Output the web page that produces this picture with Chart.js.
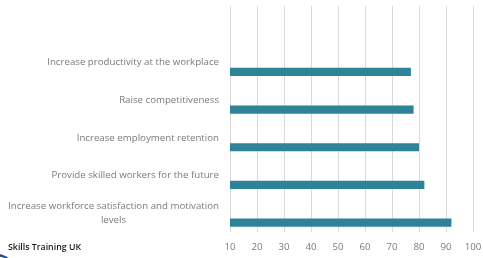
<!DOCTYPE html>
<html>
<head>
<meta charset="utf-8">
<script src="https://cdn.jsdelivr.net/npm/chart.js@4"></script>
<style>
  html, body { margin: 0; padding: 0; background: #fff; }
  #wrap { position: relative; width: 483px; height: 258px; overflow: hidden; }
  #brand { position: absolute; left: 8px; top: 241px; font: 600 8.8px "Open Sans", sans-serif; color: #1a1a1a; }
  #swoosh { position: absolute; left: -30px; top: 253px; width: 42px; height: 20px; border-radius: 50%; border-top: 3px solid #23508f; }
</style>
</head>
<body>
<div id="wrap">
  <canvas id="myChart" width="483" height="258"></canvas>
  <div id="brand">Skills Training UK</div>
  <div id="swoosh"></div>
</div>
<script>
// categories top to bottom (first one is the empty slot at the top)
const labels = [
    "",
    "Increase productivity at the workplace",
    "Raise competitiveness",
    "Increase employment retention",
    "Provide skilled workers for the future",
    ["Increase workforce satisfaction and motivation", "levels"]
];
const values = [null, 77, 78, 80, 82, 92];
const spacer = [null, null, null, null, null, null];
const xTicks = [10, 20, 30, 40, 50, 60, 70, 80, 90, 100];

const labelFont = { family: "Open Sans", size: 9.7 };

// draw the y labels: multi-line block right aligned, lines centred inside it
const yLabels = {
    id: "yLabels",
    afterDraw(chart) {
        const c = chart.ctx;
        const y = chart.scales.y;
        c.save();
        c.font = labelFont.size + "px '" + labelFont.family + "'";
        c.fillStyle = "#7a7a7a";
        c.textAlign = "center";
        c.textBaseline = "middle";
        labels.forEach((lab, i) => {
            const lines = Array.isArray(lab) ? lab : [lab];
            const w = Math.max(...lines.map(l => c.measureText(l).width));
            const cx = y.right - 11 - w / 2;
            const cy = y.getPixelForValue(i);
            const lh = 14;
            lines.forEach((l, j) => {
                c.fillText(l, cx, cy + (j - (lines.length - 1) / 2) * lh);
            });
        });
        c.restore();
    }
};

const ctx = document.getElementById("myChart").getContext("2d");
const myChart = new Chart(ctx, {
    type: "bar",
    data: {
        labels: labels,
        datasets: [
            {
                label: "spacer",
                data: spacer,
                backgroundColor: "transparent",
            },
            {
                label: "Skills Training UK",
                data: values,
                backgroundColor: "#2e8399",
            },
        ],
    },
    options: {
        indexAxis: "y",
        responsive: false,
        animation: false,
        layout: { padding: { top: 6, right: 0, bottom: 3, left: 7 } },
        datasets: { bar: { categoryPercentage: 1, barPercentage: 0.43 } },
        plugins: {
            legend: { display: false },
            tooltip: { enabled: false },
        },
        scales: {
            x: {
                min: 10,
                max: 100,
                afterBuildTicks: (scale) => { scale.ticks = xTicks.map(v => ({ value: v })); },
                afterFit: (scale) => { scale.paddingLeft = 0; scale.paddingRight = 10; scale.height = 23; },
                grid: { color: "#d9d9d9", drawTicks: false },
                border: { display: false },
                ticks: { color: "#7a7a7a", font: labelFont, padding: 9, maxRotation: 0 },
            },
            y: {
                afterFit: (scale) => { scale.paddingTop = 0; scale.paddingBottom = 0; scale.width = 223; },
                grid: { display: false, drawTicks: false },
                border: { display: false },
                ticks: { color: "transparent", font: labelFont, padding: 11, autoSkip: false },
            },
        },
    },
    plugins: [yLabels],
});
</script>
</body>
</html>
